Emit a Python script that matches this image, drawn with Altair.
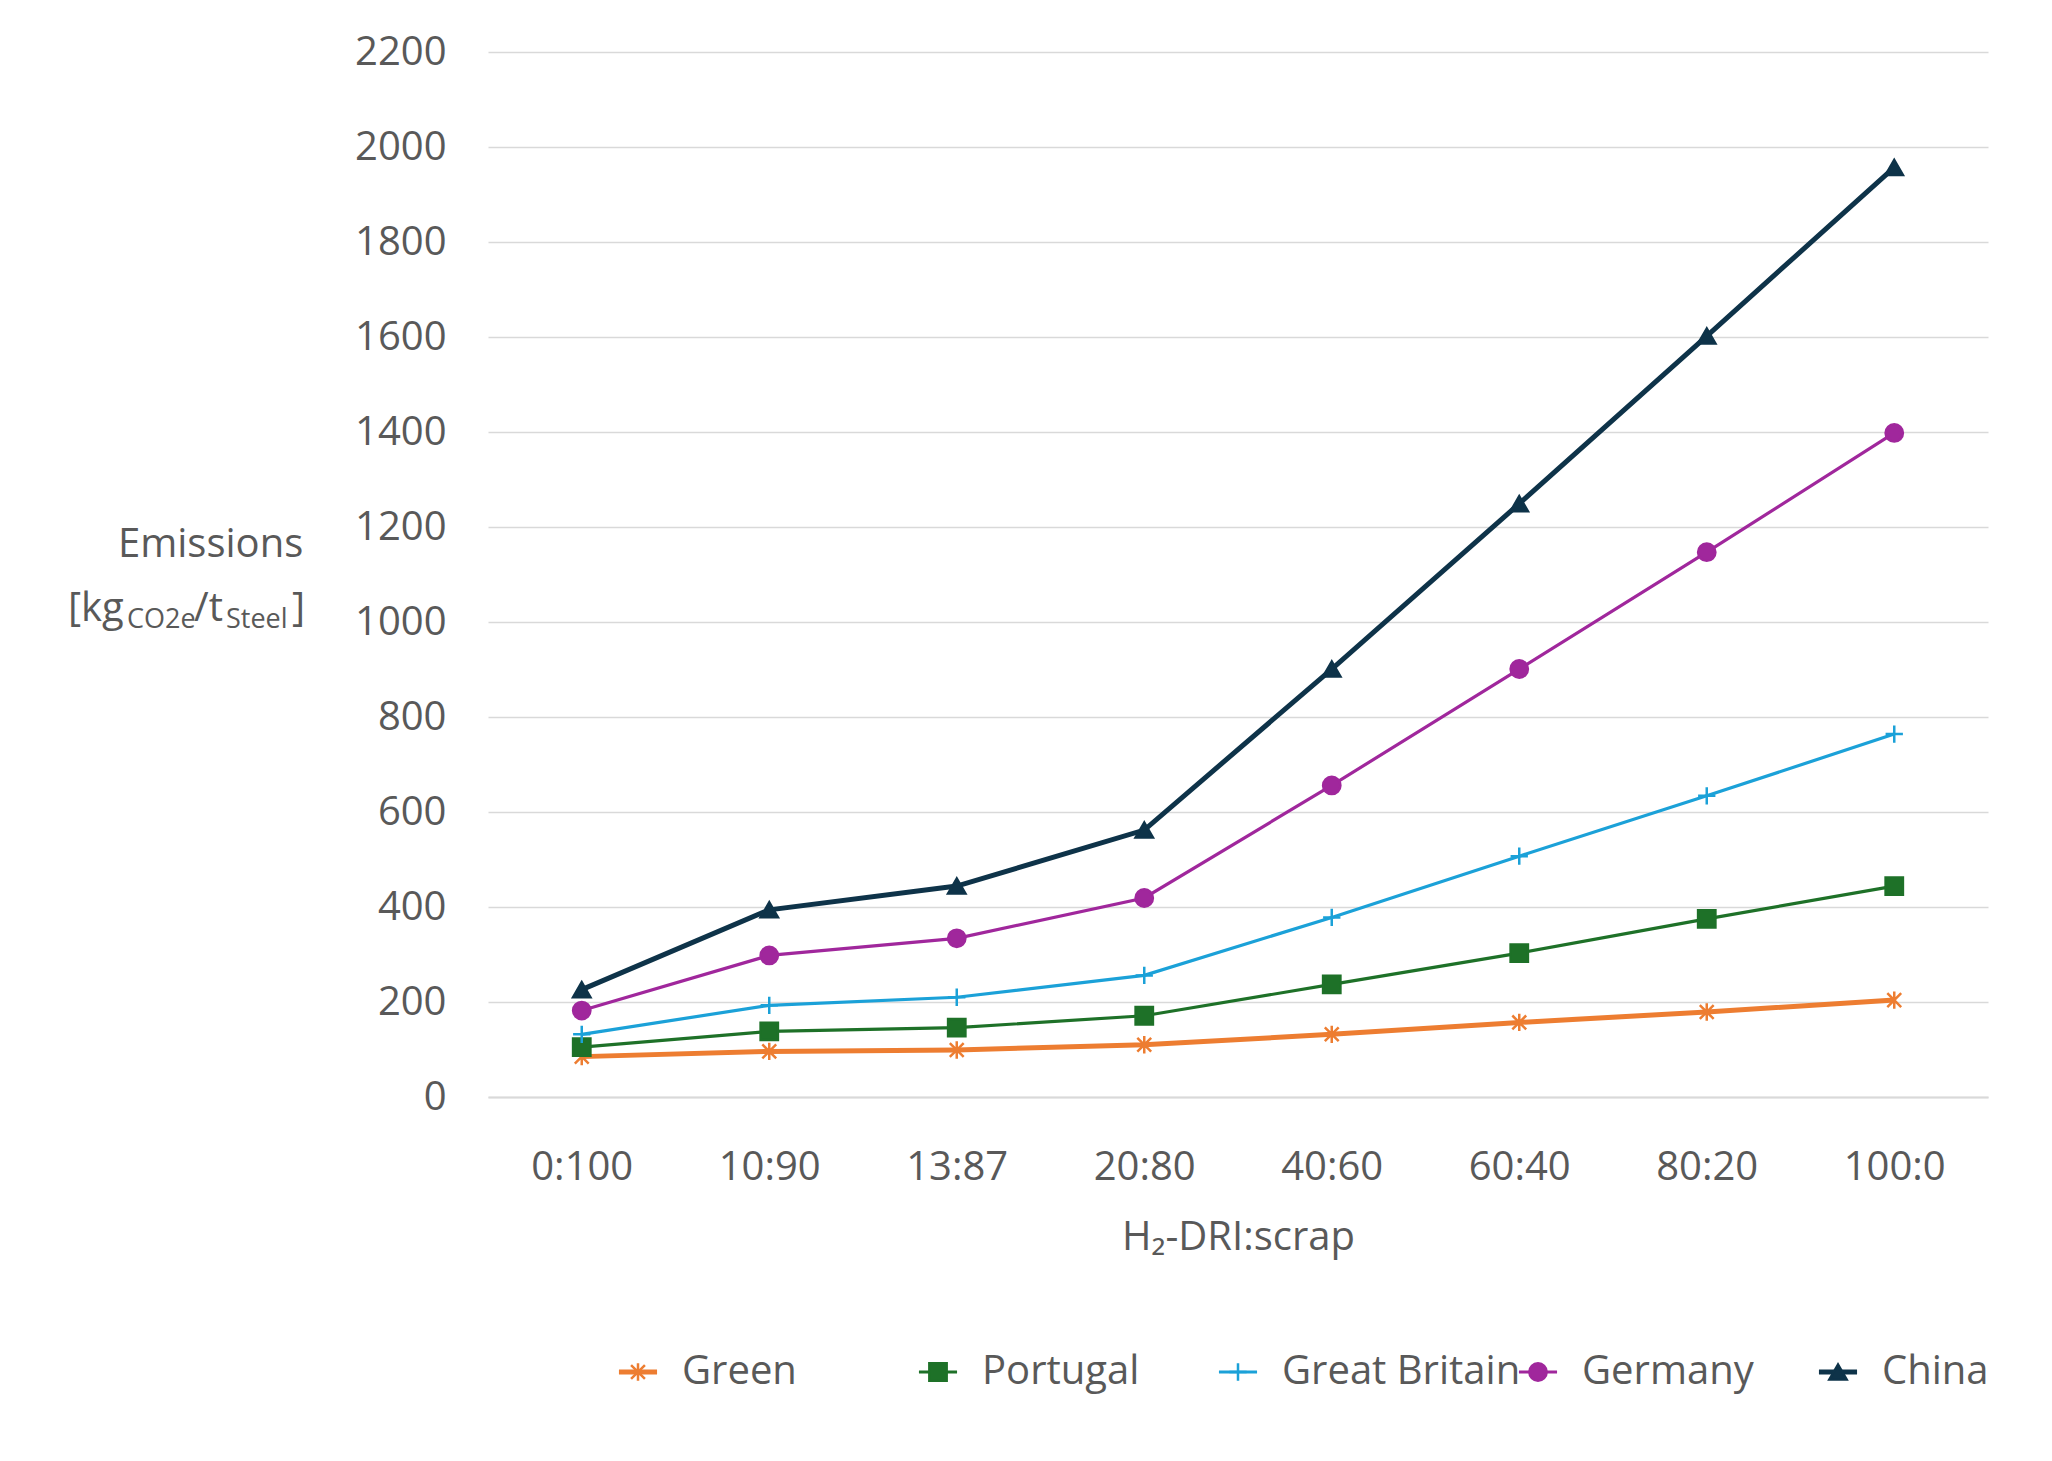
import altair as alt
import pandas as pd

ratios = ["0:100", "10:90", "13:87", "20:80", "40:60", "60:40", "80:20", "100:0"]
series = ["Green", "Portugal", "Great Britain", "Germany", "China"]
colors = ["#ed7d31", "#1e7128", "#1ba1d8", "#a0279c", "#0e3349"]
green = [85, 96, 99, 110, 132, 157, 179, 204]
portugal = [105, 138, 146, 171, 237, 303, 375, 444]
britain = [132, 193, 210, 256, 378, 507, 634, 764]
germany = [182, 298, 334, 419, 656, 901, 1147, 1398]
china = [226, 394, 444, 562, 901, 1249, 1602, 1957]

# marker shapes as SVG paths (asterisk, square, plus, circle, triangle)
shapes = [
    "M-0.8,-0.8L0.8,0.8M-0.8,0.8L0.8,-0.8M0,-1L0,1",
    "square",
    "M-1,0L1,0M0,-1L0,1",
    "circle",
    "triangle-up",
]

rows = []
for name, vals in zip(series, [green, portugal, britain, germany, china]):
    for r, v in zip(ratios, vals):
        rows.append({"ratio": r, "series": name, "value": v})
df = pd.DataFrame(rows)

FONT = "Open Sans"
GREY = "#595959"
col = alt.Scale(domain=series, range=colors)
shp = alt.Scale(domain=series, range=shapes)
thick = alt.condition("datum.series == 'China' || datum.series == 'Green'", alt.value(5), alt.value(3.2))

x = alt.X("ratio:N", sort=ratios, scale=alt.Scale(paddingInner=1, paddingOuter=0.5),
          axis=alt.Axis(title="H₂-DRI:scrap", labelAngle=0, ticks=False, domainColor="#d9d9d9",
                        domainWidth=2, labelPadding=50, titlePadding=30))
y = alt.Y("value:Q", scale=alt.Scale(domain=[0, 2200]),
          axis=alt.Axis(title=None, values=list(range(0, 2201, 200)), format="d", ticks=False,
                        domain=False, labelPadding=42, gridColor="#d9d9d9", gridWidth=1.5))

lines = alt.Chart(df).mark_line().encode(
    x=x, y=y,
    color=alt.Color("series:N", scale=col, legend=None),
    strokeWidth=thick,
)
pts = alt.Chart(df).mark_point(filled=True, size=300, strokeWidth=2.5, opacity=1).encode(
    x=x, y=y,
    color=alt.Color("series:N", scale=col, legend=None),
    stroke=alt.Stroke("series:N", scale=col, legend=None),
    shape=alt.Shape("series:N", scale=shp, legend=None),
)


def label(txt, size, xp, yp):
    return alt.Chart(pd.DataFrame({"t": [txt]})).mark_text(
        font=FONT, fontSize=size, color=GREY, align="left").encode(
        text="t:N", x=alt.value(xp), y=alt.value(yp))


ytitle = (label("Emissions", 40, -370, 493) + label("[kg", 40, -420, 557)
          + label("CO2e", 27, -361, 568) + label("/t", 40, -294, 557)
          + label("Steel", 27, -262, 568) + label("]", 40, -196, 557))

main = (lines + pts + ytitle).properties(width=1500, height=1045)

ld = pd.DataFrame({"series": series})
lx = alt.X("series:N", sort=series, axis=None, scale=alt.Scale(paddingInner=0, paddingOuter=0))
lline = alt.Chart(ld).mark_point(shape="M-2.2,0L2.2,0", size=300, filled=False, opacity=1).encode(
    x=lx, y=alt.value(20),
    color=alt.Color("series:N", scale=col, legend=None),
    strokeWidth=thick,
)
lpts = alt.Chart(ld).mark_point(filled=True, size=300, strokeWidth=2.5, opacity=1).encode(
    x=lx, y=alt.value(20),
    color=alt.Color("series:N", scale=col, legend=None),
    stroke=alt.Stroke("series:N", scale=col, legend=None),
    shape=alt.Shape("series:N", scale=shp, legend=None),
)
ltxt = alt.Chart(ld).mark_text(align="left", dx=44, font=FONT, fontSize=40, color=GREY).encode(
    x=lx, y=alt.value(20), text="series:N")
legend = (lline + lpts + ltxt).properties(width=1500, height=40)

chart = alt.vconcat(main, legend, spacing=95).properties(
    padding={"left": 60, "top": 24, "right": 40, "bottom": 40}
).configure_view(stroke=None).configure_axis(
    labelFont=FONT, titleFont=FONT, labelFontSize=40, titleFontSize=40,
    labelColor=GREY, titleColor=GREY, titleFontWeight="normal",
)

chart.save("out.html", embed_options={"renderer": "svg", "actions": False})
